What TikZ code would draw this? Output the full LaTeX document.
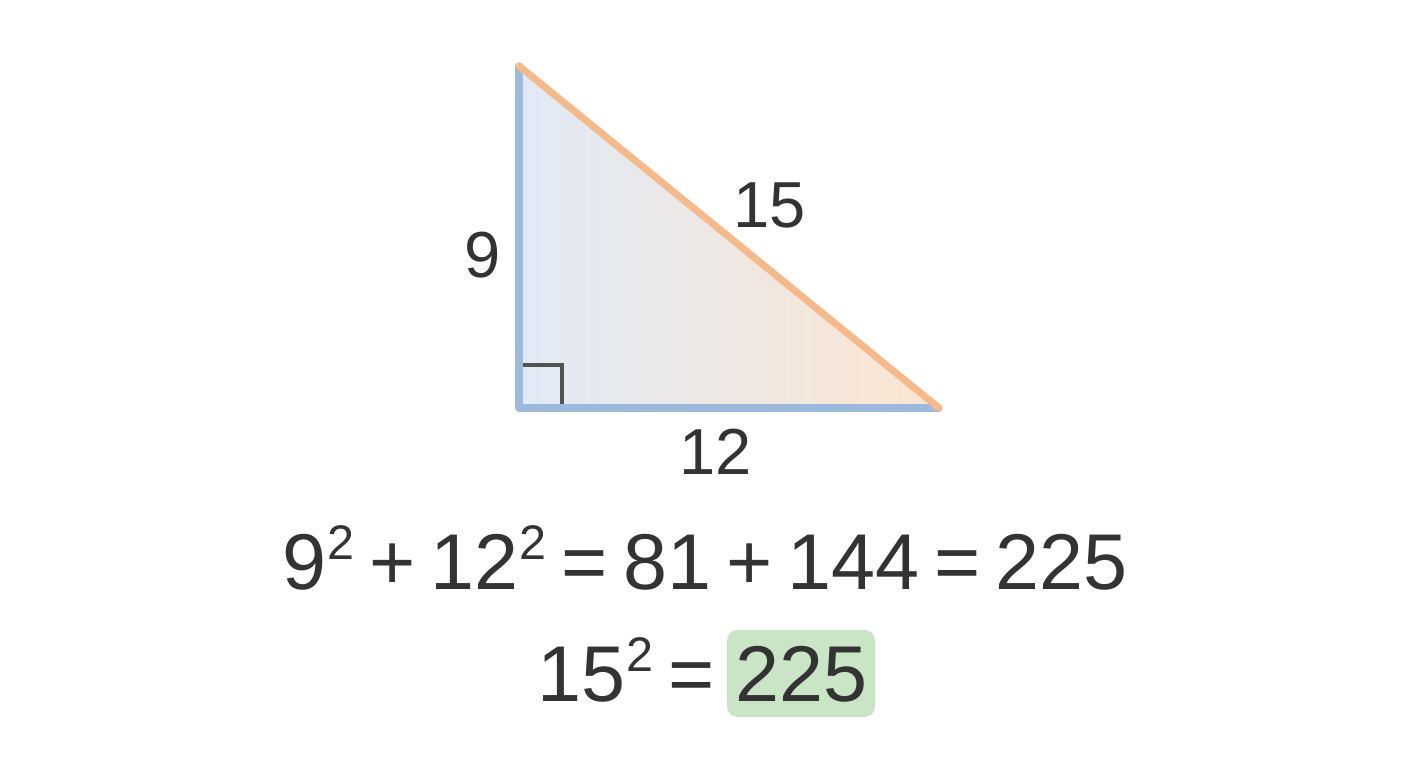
\documentclass[tikz,border=0pt]{standalone}
\usepackage{fontspec}
\setmainfont{Liberation Sans}
\definecolor{txt}{HTML}{333333}
\definecolor{legblue}{HTML}{9DB9DB}
\definecolor{hypor}{HTML}{F4BA8C}
\definecolor{fillbl}{HTML}{E0EAF6}
\definecolor{fillor}{HTML}{FDE5D0}
\definecolor{boxgreen}{HTML}{C9E5C5}
\newcommand{\sq}{\kern0.3pt\raisebox{8.6pt}{\fontsize{13.8}{14}\selectfont 2}}
\newcommand{\eqfont}{\fontsize{22.5}{24}\selectfont\spaceskip=4.3pt\relax}
\begin{document}
\begin{tikzpicture}[x=0.01cm,y=-0.01cm,
  lbl/.style={text=txt,font=\fontsize{18.5}{20}\selectfont,inner sep=0pt},
  eq/.style={text=txt,font=\eqfont,inner sep=0pt,anchor=base}]
\useasboundingbox (0,0) rectangle (1408,768);
\fill[white] (0,0) rectangle (1408,768);
\coordinate (A) at (519,66);
\coordinate (B) at (519,408);
\coordinate (C) at (939,408);
\shade[left color=fillbl,right color=fillor] (A) -- (B) -- (C) -- cycle;
\draw[txt!85,line width=1.2pt] (523,365) -- (562,365) -- (562,404);
\draw[legblue,line width=2pt,line cap=round,line join=round] (A) -- (B) -- (C);
\draw[hypor,line width=2pt,line cap=round] (A) -- (C);
\node[lbl] (n9) at (483,255) {9};
\node[lbl] (n15) at (770,205) {15};
\node[lbl] (n12) at (716,452) {12};
\node[eq] (l1) at (705,590) {9\sq{} + 12\sq{} = 81 + 144 = 225};
\node[fill=boxgreen,rounded corners=3pt,minimum width=42.1pt,minimum height=24.75pt,inner sep=0pt] (box) at (801,673.5) {};
\node[eq] (res) at (802,702) {225};
\node[eq,anchor=base east] (l2) at ([xshift=-3pt]box.west |- res.base) {15\sq{} =};
\end{tikzpicture}
\end{document}
